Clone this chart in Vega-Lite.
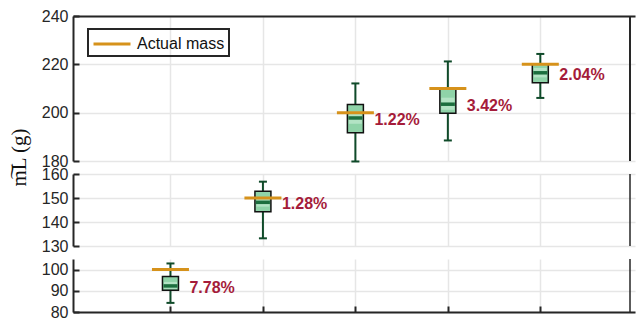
{
  "$schema": "https://vega.github.io/schema/vega-lite/v6.json",
  "padding": {"left": 8, "top": 8, "right": 3, "bottom": 0},
  "background": "white",
  "bounds": "flush",
  "datasets": {
    "boxes": [
      {"cat": 1, "panel": "bottom", "lo": 84.3, "q1": 90.3, "nlo": 91.0, "med": 92.3, "nhi": 94.2, "q3": 96.8, "hi": 102.9, "actual": 100, "err": "7.78%"},
      {"cat": 2, "panel": "middle", "lo": 133.2, "q1": 144.3, "nlo": 146.4, "med": 148.2, "nhi": 150.4, "q3": 152.8, "hi": 156.8, "actual": 150, "err": "1.28%"},
      {"cat": 3, "panel": "top", "lo": 179.8, "q1": 191.7, "nlo": 195.4, "med": 197.8, "nhi": 200.4, "q3": 203.4, "hi": 212.1, "actual": 200, "err": "1.22%"},
      {"cat": 4, "panel": "top", "lo": 188.5, "q1": 199.8, "nlo": 201.2, "med": 203.5, "nhi": 206.2, "q3": 210.3, "hi": 221.2, "actual": 210, "err": "3.42%"},
      {"cat": 5, "panel": "top", "lo": 206.1, "q1": 212.4, "nlo": 214.6, "med": 216.5, "nhi": 218.5, "q3": 220.2, "hi": 224.3, "actual": 220, "err": "2.04%"}
    ]
  },
  "config": {
    "view": {"stroke": null},
    "tick": {"opacity": 1},
    "axis": {
      "labelFont": "Liberation Sans",
      "labelFontSize": 16,
      "labelColor": "#262626",
      "labelOverlap": false,
      "domainColor": "#262626",
      "domainWidth": 2,
      "tickColor": "#262626",
      "tickWidth": 2,
      "tickSize": -6,
      "labelPadding": 11,
      "gridColor": "#e6e6e6",
      "gridWidth": 1.5
    },
    "legend": {
      "strokeColor": "#262626",
      "strokeWidth": 2,
      "padding": 4,
      "labelFont": "Liberation Sans",
      "labelFontSize": 16,
      "labelColor": "#111111"
    }
  },
  "resolve": {"scale": {"stroke": "independent"}, "legend": {"stroke": "independent"}},
  "spacing": 13,
  "vconcat": [
    {
      "width": 562,
      "height": 145,
      "data": {"name": "boxes"},
      "transform": [{"filter": "datum.panel == 'top'"}],
      "encoding": {
        "x": {"field": "cat", "type": "quantitative", "scale": {"domain": [0, 5.97], "nice": false},
              "axis": {"orient": "top", "values": [1, 2, 3, 4, 5], "labels": false, "ticks": false, "grid": true, "title": null, "domain": true}}
      },
      "layer": [
        {"mark": {"type": "rule", "color": "#0f4a29", "strokeWidth": 2},
         "encoding": {"y": {"field": "lo", "type": "quantitative", "title": null, "scale": {"domain": [180, 240], "nice": false},
                            "axis": {"values": [180, 200, 220, 240], "grid": true}},
                      "y2": {"field": "hi"}}},
        {"mark": {"type": "tick", "orient": "horizontal", "color": "#0f4a29", "size": 8, "thickness": 2},
         "encoding": {"y": {"field": "lo", "type": "quantitative", "title": null, "axis": {"values": [180, 200, 220, 240], "grid": true}}}},
        {"mark": {"type": "tick", "orient": "horizontal", "color": "#0f4a29", "size": 8, "thickness": 2},
         "encoding": {"y": {"field": "hi", "type": "quantitative", "title": null, "axis": {"values": [180, 200, 220, 240], "grid": true}}}},
        {"mark": {"type": "bar", "size": 16, "fill": "#8fd3a8", "stroke": "#111111", "strokeWidth": 1.5},
         "encoding": {"y": {"field": "q1", "type": "quantitative", "title": null, "axis": {"values": [180, 200, 220, 240], "grid": true}}, "y2": {"field": "q3"}}},
        {"mark": {"type": "bar", "size": 13, "fill": "#b3e3c4"},
         "encoding": {"y": {"field": "nlo", "type": "quantitative", "title": null, "axis": {"values": [180, 200, 220, 240], "grid": true}}, "y2": {"field": "nhi"}}},
        {"mark": {"type": "tick", "orient": "horizontal", "color": "#1c6e3e", "size": 14, "thickness": 3.5},
         "encoding": {"y": {"field": "med", "type": "quantitative", "title": null, "axis": {"values": [180, 200, 220, 240], "grid": true}}}},
        {"mark": {"type": "tick", "orient": "horizontal", "filled": false, "size": 34, "thickness": 0.01, "strokeWidth": 3},
         "encoding": {"y": {"field": "actual", "type": "quantitative", "title": null, "axis": {"values": [180, 200, 220, 240], "grid": true}},
                      "stroke": {"datum": "Actual mass", "type": "nominal", "scale": {"range": ["#d6921b"]},
                                 "legend": {"title": null, "orient": "none", "legendX": 15, "legendY": 13,
                                            "symbolType": "M-2,0H2", "symbolSize": 342, "symbolStrokeWidth": 3,
                                            "symbolOffset": 9, "labelOffset": 14, "symbolOpacity": 1}}}},
        {"mark": {"type": "text", "align": "left", "baseline": "middle", "dx": 19, "dy": 2, "font": "Liberation Sans", "fontSize": 16, "fontWeight": "bold", "color": "#a51c3a"},
         "encoding": {"y": {"field": "med", "type": "quantitative", "title": null, "axis": {"values": [180, 200, 220, 240], "grid": true}}, "text": {"field": "err"}}},
        {"mark": {"type": "rule", "color": "#262626", "strokeWidth": 1.5},
         "encoding": {"x": {"datum": 5.97, "type": "quantitative"}}}
      ]
    },
    {
      "width": 562,
      "height": 72,
      "data": {"name": "boxes"},
      "transform": [{"filter": "datum.panel == 'middle'"}],
      "encoding": {
        "x": {"field": "cat", "type": "quantitative", "scale": {"domain": [0, 5.97], "nice": false},
              "axis": {"values": [1, 2, 3, 4, 5], "labels": false, "ticks": false, "grid": true, "title": null, "domain": false}}
      },
      "layer": [
        {"mark": {"type": "rule", "color": "#0f4a29", "strokeWidth": 2},
         "encoding": {"y": {"field": "lo", "type": "quantitative", "title": "m\u0360L (g)", "scale": {"domain": [130, 160], "nice": false},
                            "axis": {"values": [130, 140, 150, 160], "grid": true,
                                     "titleFont": "Liberation Serif", "titleFontSize": 21, "titleFontWeight": "normal", "titleColor": "#111111",
                                     "titleX": -44, "titleY": -17}},
                      "y2": {"field": "hi"}}},
        {"mark": {"type": "tick", "orient": "horizontal", "color": "#0f4a29", "size": 8, "thickness": 2},
         "encoding": {"y": {"field": "lo", "type": "quantitative", "title": "m\u0360L (g)", "axis": {"values": [130, 140, 150, 160], "grid": true}}}},
        {"mark": {"type": "tick", "orient": "horizontal", "color": "#0f4a29", "size": 8, "thickness": 2},
         "encoding": {"y": {"field": "hi", "type": "quantitative", "title": "m\u0360L (g)", "axis": {"values": [130, 140, 150, 160], "grid": true}}}},
        {"mark": {"type": "bar", "size": 16, "fill": "#8fd3a8", "stroke": "#111111", "strokeWidth": 1.5},
         "encoding": {"y": {"field": "q1", "type": "quantitative", "title": "m\u0360L (g)", "axis": {"values": [130, 140, 150, 160], "grid": true}}, "y2": {"field": "q3"}}},
        {"mark": {"type": "bar", "size": 13, "fill": "#b3e3c4"},
         "encoding": {"y": {"field": "nlo", "type": "quantitative", "title": "m\u0360L (g)", "axis": {"values": [130, 140, 150, 160], "grid": true}}, "y2": {"field": "nhi"}}},
        {"mark": {"type": "tick", "orient": "horizontal", "color": "#1c6e3e", "size": 14, "thickness": 3.5},
         "encoding": {"y": {"field": "med", "type": "quantitative", "title": "m\u0360L (g)", "axis": {"values": [130, 140, 150, 160], "grid": true}}}},
        {"mark": {"type": "tick", "orient": "horizontal", "color": "#d6921b", "size": 37, "thickness": 3},
         "encoding": {"y": {"field": "actual", "type": "quantitative", "title": "m\u0360L (g)", "axis": {"values": [130, 140, 150, 160], "grid": true}}}},
        {"mark": {"type": "text", "align": "left", "baseline": "middle", "dx": 19, "dy": 2, "font": "Liberation Sans", "fontSize": 16, "fontWeight": "bold", "color": "#a51c3a"},
         "encoding": {"y": {"field": "med", "type": "quantitative", "title": "m\u0360L (g)", "axis": {"values": [130, 140, 150, 160], "grid": true}}, "text": {"field": "err"}}},
        {"mark": {"type": "rule", "color": "#262626", "strokeWidth": 1.5},
         "encoding": {"x": {"datum": 5.97, "type": "quantitative"}}}
      ]
    },
    {
      "width": 562,
      "height": 53,
      "data": {"name": "boxes"},
      "transform": [{"filter": "datum.panel == 'bottom'"}],
      "encoding": {
        "x": {"field": "cat", "type": "quantitative", "scale": {"domain": [0, 5.97], "nice": false},
              "axis": {"values": [1, 2, 3, 4, 5], "labels": false, "ticks": true, "grid": true, "title": null, "domain": true}}
      },
      "layer": [
        {"mark": {"type": "rule", "color": "#0f4a29", "strokeWidth": 2},
         "encoding": {"y": {"field": "lo", "type": "quantitative", "title": null, "scale": {"domain": [80, 105], "nice": false},
                            "axis": {"values": [80, 90, 100], "grid": true}},
                      "y2": {"field": "hi"}}},
        {"mark": {"type": "tick", "orient": "horizontal", "color": "#0f4a29", "size": 8, "thickness": 2},
         "encoding": {"y": {"field": "lo", "type": "quantitative", "title": null, "axis": {"values": [80, 90, 100], "grid": true}}}},
        {"mark": {"type": "tick", "orient": "horizontal", "color": "#0f4a29", "size": 8, "thickness": 2},
         "encoding": {"y": {"field": "hi", "type": "quantitative", "title": null, "axis": {"values": [80, 90, 100], "grid": true}}}},
        {"mark": {"type": "bar", "size": 16, "fill": "#8fd3a8", "stroke": "#111111", "strokeWidth": 1.5},
         "encoding": {"y": {"field": "q1", "type": "quantitative", "title": null, "axis": {"values": [80, 90, 100], "grid": true}}, "y2": {"field": "q3"}}},
        {"mark": {"type": "bar", "size": 13, "fill": "#b3e3c4"},
         "encoding": {"y": {"field": "nlo", "type": "quantitative", "title": null, "axis": {"values": [80, 90, 100], "grid": true}}, "y2": {"field": "nhi"}}},
        {"mark": {"type": "tick", "orient": "horizontal", "color": "#1c6e3e", "size": 14, "thickness": 3.5},
         "encoding": {"y": {"field": "med", "type": "quantitative", "title": null, "axis": {"values": [80, 90, 100], "grid": true}}}},
        {"mark": {"type": "tick", "orient": "horizontal", "color": "#d6921b", "size": 37, "thickness": 3},
         "encoding": {"y": {"field": "actual", "type": "quantitative", "title": null, "axis": {"values": [80, 90, 100], "grid": true}}}},
        {"mark": {"type": "text", "align": "left", "baseline": "middle", "dx": 19, "dy": 2, "font": "Liberation Sans", "fontSize": 16, "fontWeight": "bold", "color": "#a51c3a"},
         "encoding": {"y": {"field": "med", "type": "quantitative", "title": null, "axis": {"values": [80, 90, 100], "grid": true}}, "text": {"field": "err"}}},
        {"mark": {"type": "rule", "color": "#262626", "strokeWidth": 1.5},
         "encoding": {"x": {"datum": 5.97, "type": "quantitative"}}}
      ]
    }
  ]
}
